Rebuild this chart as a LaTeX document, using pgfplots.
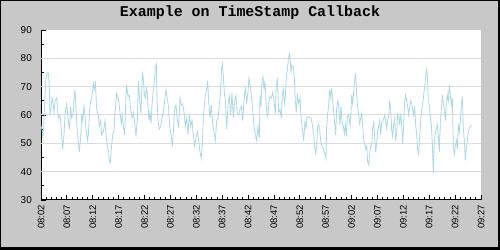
\documentclass[border=0pt]{standalone}
\usepackage{pgfplots}
\pgfplotsset{compat=1.18}
\usepackage{pgfplotstable}
\usepackage{fontspec}
\setmainfont{Liberation Sans}
\newfontfamily\titlefont{Liberation Mono}
\definecolor{bggray}{HTML}{C8C8C8}
\definecolor{gridgray}{HTML}{DCDCDC}
\definecolor{lineblue}{HTML}{ADD8E6}

\pgfplotstableread{
xz v
0 58
3 56
6 55
9 52
12 58
15 67
18 73
21 74
24 75
26 74
28 70
30 60
33 62
36 66
39 64
42 61
45 65
50 66
55 59
60 60
63 56
66 51
68 48
72 53
75 60
80 64
85 58
88 55
92 63
95 59
100 61
102 65
105 69
108 62
112 54
115 51
118 47
122 52
125 60
128 58
132 63
135 60
138 55
142 51
145 53
150 63.5
155 66
160 71
163 69
166 72
170 62
175 60
178 56
182 58
185 53
190 54
195 58
198 53
202 49
206 47
208 43.5
211 43
214 48
218 53
222 54
225 61
230 67.6
233 67
236 65
240 61
244 57
247 60
250 56
254 53
258 67
260 70.6
264 66.5
268 67
272 62
276 59
280 61
284 57
288 53
292 58
295 72
300 64
303 60.5
307 74.7
310 73
313 67
316 66
320 70
323 65
327 58
330 61
333 57
336 63.5
340 69
344 73
346 76.5
349 78
351 65
355 57
358 55
362 56
366 59
370 61
374 65
378 69
381 66.5
385 63.5
389 56
393 53
397 49
400 54
404 62
408 63.5
412 58
416 56
420 66
424 63.5
428 64
432 61
436 56
440 59
444 53
448 60.5
452 56
456 58
460 53
464 49
468 52
472 54
476 51
480 47
484 44.7
487 50
490 59
494 65
497 67.6
500 69
503 72
506 65
510 59
514 63.5
518 57
522 54
526 51
530 58
534 58.5
538 63.5
541 67
543 72
545 76.5
547 78
550 74
553 68
556 65
560 55
564 63.5
568 66.5
572 60
576 68
580 59
584 65
588 67
592 60.5
596 60
600 62
604 63
608 58
612 65
616 70
620 64
624 68
627 73
630 71
634 67
638 62
642 56
646 53
650 51
654 56
658 52
}\dataA

\pgfplotstableread{
xz v
-2 52
0 67
3 63
6 72
9 73.5
12 69
15 72
18 65
21 59.4
24 60
27 65
30 66.5
34 66
38 68
42 65
46 60.5
49 70.6
52 73
56 61
60 62
64 59
67 67
70 69
73 64
76 66.5
79 73.5
82 76
85 79.4
88 81.8
90 80.6
93 75.3
96 77.6
100 77
103 73
106 65
109 61
112 67.6
116 64
120 66
123 59.4
127 55
131 51
135 58
138 55
141 59.4
145 59.4
149 59
153 59
157 56.5
161 53
164 49
167 46.5
170 49
173 56
176 56.5
179 55
182 51
186 49
190 48
194 46.5
198 44.7
200 56
203 60.5
206 63.5
209 69
212 66
215 69.4
218 65
221 61
224 57
227 53
230 62
233 65
236 63.5
240 56.5
243 63
246 58
250 56
253 53.5
256 56.5
259 52.5
262 59.4
266 60
270 56.5
273 61
275 67
278 64
281 68
284 72.4
287 74.7
290 67
293 63
296 60
299 57
302 58.6
305 60.5
308 56.5
311 51
314 50
317 48
320 49
323 43.5
326 42.4
329 46
332 49
335 49
338 55
341 58
344 52.5
347 47
350 50
353 54
356 56
359 58
362 53
365 57
368 58
371 58.6
374 60
377 58
380 55.3
383 58
386 59.4
389 65
392 62
395 55
398 52.5
401 56.5
404 58.6
407 51
410 53.5
413 60.5
416 60
419 56.5
422 60.5
425 56.5
428 50
431 56.5
434 65
437 67
440 65
443 63
446 60
449 63
452 65
455 64
458 62
461 60
464 63
467 56.5
470 53
473 48
476 46.5
479 52
482 58
485 62
488 64
491 67
494 70
497 73.5
499 76
502 74
505 65
508 63.5
511 59.4
514 56.5
517 50
520 39.4
523 51
526 53.5
529 55
532 56.5
535 53
538 47
541 57
544 62
547 67
550 64
553 62
556 58
559 63.5
562 67
565 65
568 70.6
571 67
574 63.5
577 66
580 49
583 46
586 49
589 51
592 48
595 57
598 54
601 58
604 63.5
607 66.5
610 55.3
613 51
616 44
619 48
622 51
625 54
628 55.3
631 56
634 56.5
}\dataB

\begin{document}
\begin{tikzpicture}
\fill[black] (0,0) rectangle (500bp,250bp);
\fill[bggray] (1bp,2.5bp) rectangle (497.5bp,249bp);
\node[font=\titlefont\bfseries\fontsize{15}{18}\selectfont, anchor=center] at (250bp,237.5bp) {Example on TimeStamp Callback};
\begin{axis}[
  at={(41bp,50bp)}, anchor=south west,
  scale only axis, width=440bp, height=170bp,
  xmin=2, xmax=87, ymin=30, ymax=90,
  axis x line*=bottom, axis y line*=left,
  axis line style={black, line width=1bp, -},
  axis background/.style={fill=white},
  xtick={2,7,...,87},
  xticklabels={08:02,08:07,08:12,08:17,08:22,08:27,08:32,08:37,08:42,08:47,08:52,08:57,09:02,09:07,09:12,09:17,09:22,09:27},
  minor x tick num=4,
  ytick={30,40,...,90},
  minor y tick num=1,
  extra y ticks={40,50,60,70,80},
  extra y tick labels={},
  extra y tick style={grid=major, major tick length=0pt},
  grid style={color=gridgray, line width=1bp},
  tick align=inside,
  major tick length=4.5bp, minor tick length=2.5bp,
  tick style={black, line width=0.8bp},
  /pgf/number format/assume math mode=true,
  tick label style={font=\fontsize{10}{12}\selectfont, inner sep=0pt},
  xticklabel style={yshift=-5bp, rotate=90, anchor=east, font=\fontsize{9.5}{11}\selectfont},
  yticklabel style={xshift=-9bp, anchor=east},
]
\addplot[lineblue, line width=0.8bp, no marks] table[x expr={(\thisrow{xz}/3+40-41)/5.17647+2}, y=v] {\dataA};
\addplot[lineblue, line width=0.8bp, no marks] table[x expr={(\thisrow{xz}/3+260-41)/5.17647+2}, y=v] {\dataB};
\end{axis}
\end{tikzpicture}
\end{document}
